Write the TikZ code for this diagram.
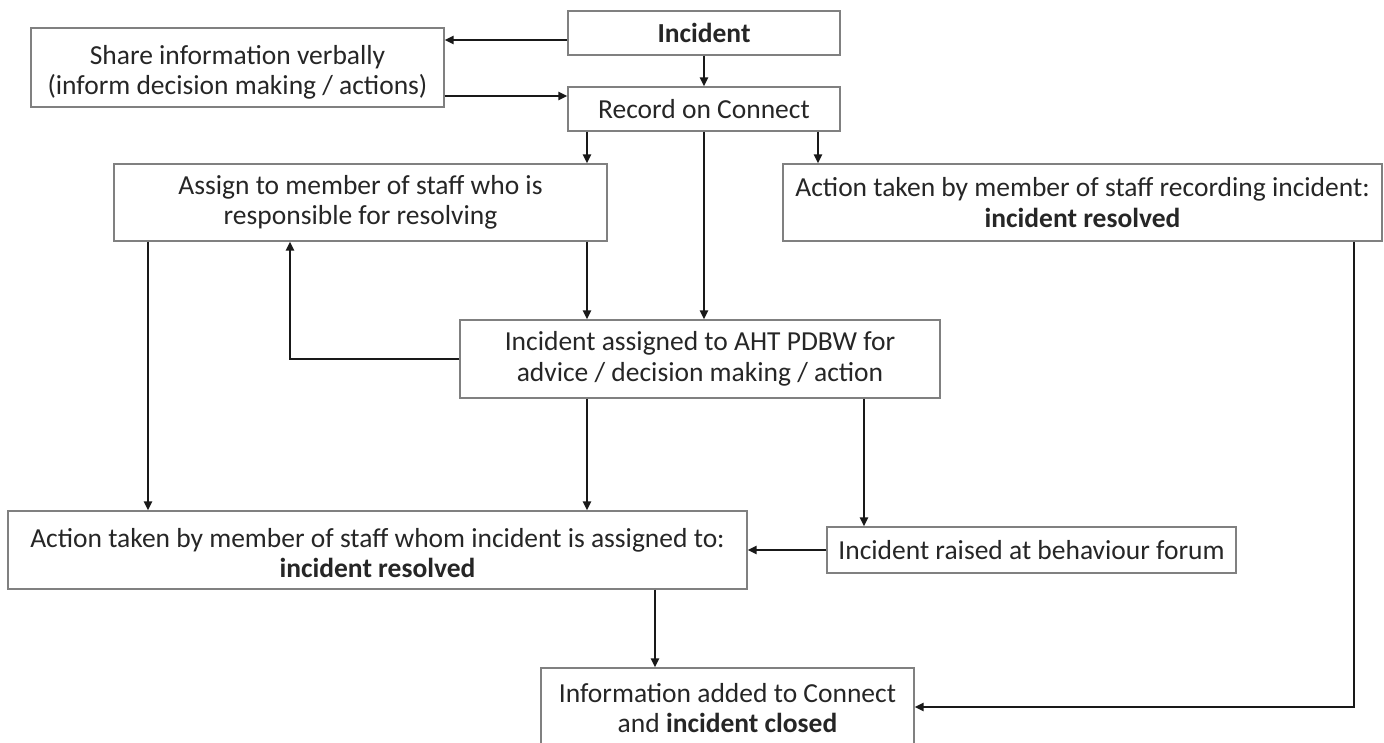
\documentclass[tikz,border=0pt]{standalone}
\usepackage{fontspec}
\setmainfont{Carlito}
\usetikzlibrary{arrows.meta}
\begin{document}
\begin{tikzpicture}[x=1pt,y=-1pt,
  txt/.style={inner sep=0pt, align=center, text=black!85, font=\fontsize{27.5}{30.5}\selectfont},
  box/.style={txt, draw=black!50, line width=1.4pt, fill=white},
  arr/.style={line width=2.4pt, black!90, -{Triangle[length=9pt,width=8pt]}}]
\useasboundingbox (0,0) rectangle (1384,743);
\node[box, minimum width=272pt, minimum height=44pt] (inc) at (704,33) {\textbf{Incident}};
\node[box, minimum width=413pt, minimum height=79pt] (share) at (237.5,67.5) {};
\node[txt] (sharetxt) at ([yshift=-5pt]share.center) {Share information verbally\\(inform decision making / actions)};
\node[box, minimum width=272pt, minimum height=44pt] (rec) at (704,109) {Record on Connect};
\node[box, minimum width=493pt, minimum height=77pt] (assign) at (360.5,202.5) {Assign to member of staff who is\\responsible for resolving};
\node[box, minimum width=599pt, minimum height=77pt] (actrec) at (1082.5,202.5) {Action taken by member of staff recording incident:\\\textbf{incident resolved}};
\node[box, minimum width=480pt, minimum height=78pt] (aht) at (700,359) {Incident assigned to AHT PDBW for\\advice / decision making / action};
\node[box, minimum width=739pt, minimum height=78pt] (actass) at (377.5,550) {};
\node[txt] (actasstxt) at ([yshift=-3pt]actass.center) {Action taken by member of staff whom incident is assigned to:\\\textbf{incident resolved}};
\node[box, minimum width=409pt, minimum height=46pt] (forum) at (1031.5,550) {Incident raised at behaviour forum};
\node[box, minimum width=373pt, minimum height=80pt] (info) at (727.5,708) {Information added to Connect\\and \textbf{incident closed}};

\draw[arr] (inc.west |- 0,40) -- (share.east |- 0,40);
\draw[arr] (share.east |- 0,96) -- (rec.west |- 0,96);
\draw[arr] (inc.south) -- (rec.north);
\draw[arr] (rec.south -| 587,0) -- (assign.north -| 587,0);
\draw[arr] (rec.south -| 704,0) -- (aht.north -| 704,0);
\draw[arr] (rec.south -| 818,0) -- (actrec.north -| 818,0);
\draw[arr] (assign.south -| 587,0) -- (aht.north -| 587,0);
\draw[arr] (aht.west) -| (assign.south -| 290,0);
\draw[arr] (assign.south -| 148,0) -- (actass.north -| 148,0);
\draw[arr] (aht.south -| 587,0) -- (actass.north -| 587,0);
\draw[arr] (aht.south -| 864,0) -- (forum.north -| 864,0);
\draw[arr] (forum.west) -- (actass.east |- forum.west);
\draw[arr] (actass.south -| 655,0) -- (info.north -| 655,0);
\draw[arr] (actrec.south -| 1354,0) |- (info.east |- 0,707);
\end{tikzpicture}
\end{document}
